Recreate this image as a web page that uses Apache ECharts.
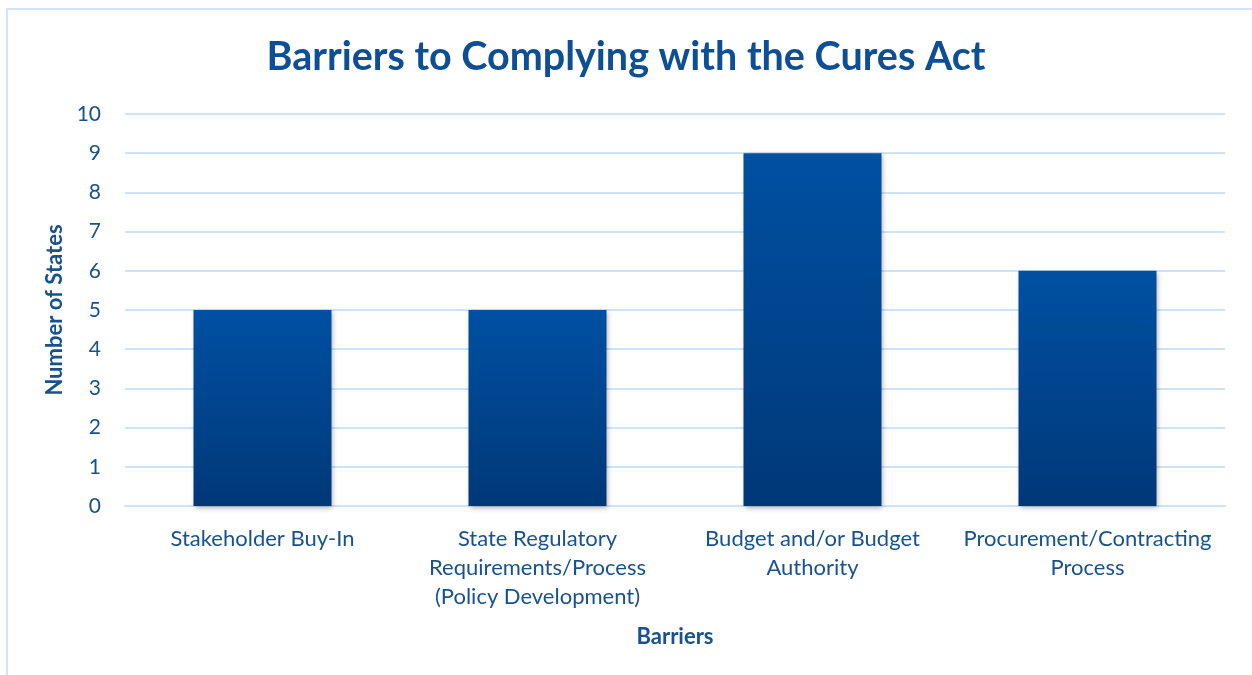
<!DOCTYPE html>
<html>
<head>
<meta charset="utf-8">
<script src="https://cdn.jsdelivr.net/npm/echarts@6/dist/echarts.min.js"></script>
<style>
  html, body { margin: 0; padding: 0; background: #fff; }
  #frame {
    position: absolute; left: 6px; top: 8px; width: 1260px; height: 680px;
    border: 2px solid #D2E5F8; box-sizing: border-box;
  }
  #chart { position: absolute; left: 0; top: 0; width: 1252px; height: 675px; }
</style>
</head>
<body>
<div id="frame"></div>
<div id="chart"></div>
<script>
const categories = [
  "Stakeholder Buy-In",
  "State Regulatory\nRequirements/Process\n(Policy Development)",
  "Budget and/or Budget\nAuthority",
  "Procurement/Contracting\nProcess"
];
const states = [5, 5, 9, 6];

const textColor = "#17528F";
const fontName = "Lato, 'Open Sans', sans-serif";

const myChart = echarts.init(document.getElementById("chart"));
myChart.setOption({
  animation: false,
  title: {
    text: "Barriers to Complying with the Cures Act",
    left: "center",
    top: 32,
    textStyle: {
      color: "#0D4F95",
      fontSize: 39.5,
      fontWeight: "bold",
      fontFamily: fontName
    }
  },
  grid: {
    left: 125,
    right: 27,
    top: 114,
    bottom: 169
  },
  xAxis: {
    type: "category",
    data: categories,
    name: "Barriers",
    nameLocation: "middle",
    nameGap: 120,
    nameTextStyle: {
      color: textColor,
      fontSize: 22,
      fontWeight: "bold",
      fontFamily: fontName
    },
    axisTick: { show: false },
    axisLine: { lineStyle: { color: "#CFE3F7", width: 2 } },
    axisLabel: {
      color: textColor,
      fontSize: 22,
      lineHeight: 29,
      margin: 18,
      interval: 0,
      fontFamily: fontName
    }
  },
  yAxis: {
    type: "value",
    min: 0,
    max: 10,
    interval: 1,
    name: "Number of States",
    nameLocation: "middle",
    nameGap: 56,
    nameTextStyle: {
      color: textColor,
      fontSize: 22,
      fontWeight: "bold",
      fontFamily: fontName
    },
    axisLine: { show: false },
    axisTick: { show: false },
    axisLabel: {
      color: textColor,
      fontSize: 21,
      margin: 24,
      fontFamily: fontName
    },
    splitLine: { lineStyle: { color: "#CFE3F7", width: 2 } }
  },
  series: [
    {
      type: "bar",
      data: states,
      barWidth: 138,
      itemStyle: {
        color: new echarts.graphic.LinearGradient(0, 0, 0, 1, [
          { offset: 0, color: "#0050A2" },
          { offset: 1, color: "#003878" }
        ]),
        shadowColor: "rgba(0,0,0,0.3)",
        shadowBlur: 5,
        shadowOffsetX: 1,
        shadowOffsetY: 2
      }
    }
  ]
});
</script>
</body>
</html>
